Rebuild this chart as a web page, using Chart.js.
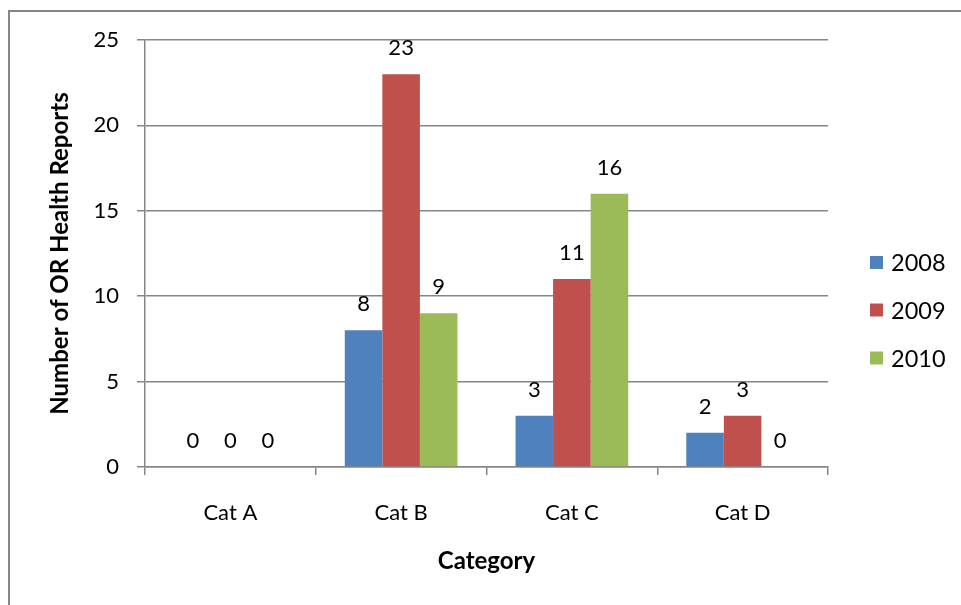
<!DOCTYPE html>
<html>
<head>
<meta charset="utf-8">
<script src="https://cdn.jsdelivr.net/npm/chart.js@4/dist/chart.umd.min.js"></script>
<style>
  html, body { margin: 0; padding: 0; background: #fff; }
  #wrap { position: relative; width: 961px; height: 605px; }
</style>
</head>
<body>
<div id="wrap"><canvas id="c" width="961" height="605"></canvas></div>
<script>
// Report counts per category and year
const categories = ['Cat A', 'Cat B', 'Cat C', 'Cat D'];
const years = ['2008', '2009', '2010'];
const counts2008 = [0, 8, 3, 2];
const counts2009 = [0, 23, 11, 3];
const counts2010 = [0, 9, 16, 0];
const yTicks = [0, 5, 10, 15, 20, 25];

const colors = ['#4F81BD', '#C0504D', '#9BBB59'];
const FONT = 'Lato, Carlito, Calibri, sans-serif';
const GRID = '#868686';

// Outer frame of the chart
const framePlugin = {
  id: 'frame',
  beforeDraw(chart) {
    const ctx = chart.ctx;
    ctx.save();
    ctx.fillStyle = '#fff';
    ctx.fillRect(0, 0, chart.width, chart.height);
    ctx.strokeStyle = GRID;
    ctx.lineWidth = 2;
    ctx.strokeRect(9, 11, chart.width + 20, chart.height + 20);
    ctx.restore();
  }
};

// Value labels above each bar
const valueLabels = {
  id: 'valueLabels',
  afterDatasetsDraw(chart) {
    const ctx = chart.ctx;
    ctx.save();
    ctx.font = '22px ' + FONT;
    ctx.fillStyle = '#000';
    ctx.textAlign = 'center';
    ctx.textBaseline = 'middle';
    chart.data.datasets.forEach((ds, i) => {
      chart.getDatasetMeta(i).data.forEach((bar, j) => {
        ctx.fillText(String(ds.data[j]), bar.x, bar.y - 26);
      });
    });
    ctx.restore();
  }
};

// Legend on the right: small square swatch plus year
const sideLegend = {
  id: 'sideLegend',
  afterDraw(chart) {
    const ctx = chart.ctx;
    const rowsY = [262.5, 310, 358];
    ctx.save();
    ctx.font = '23.5px ' + FONT;
    ctx.textAlign = 'left';
    ctx.textBaseline = 'middle';
    chart.data.datasets.forEach((ds, i) => {
      const y = rowsY[i];
      ctx.fillStyle = ds.backgroundColor;
      ctx.fillRect(870, y - 6.5, 13, 13);
      ctx.fillStyle = '#000';
      ctx.fillText(ds.label, 891, y + 1);
    });
    ctx.restore();
  }
};

const seriesValues = [counts2008, counts2009, counts2010];

new Chart(document.getElementById('c'), {
  type: 'bar',
  data: {
    labels: categories,
    datasets: years.map((y, i) => ({
      label: y,
      data: seriesValues[i],
      backgroundColor: colors[i],
      borderWidth: 0,
      barPercentage: 1,
      categoryPercentage: 0.66
    }))
  },
  options: {
    responsive: false,
    animation: false,
    devicePixelRatio: 1,
    layout: { padding: { left: 45, top: 40, right: 133, bottom: 20 } },
    plugins: { legend: { display: false }, tooltip: { enabled: false } },
    scales: {
      x: {
        grid: { display: true, drawOnChartArea: false, offset: true, color: GRID, tickLength: 8, lineWidth: 1.5 },
        border: { display: true, color: GRID, width: 1.5 },
        ticks: { color: '#000', font: { family: FONT, size: 22 }, padding: 25 },
        title: { display: true, text: 'Category', color: '#000', font: { family: FONT, size: 24, weight: 'bold' }, padding: { top: 0, bottom: 9 } },
        afterFit(scale) { scale.height = 605 - 20 - 467; }
      },
      y: {
        min: 0, max: 25,
        afterBuildTicks(scale) { scale.ticks = yTicks.map(v => ({ value: v })); },
        grid: { color: GRID, tickLength: 8, lineWidth: 1.5 },
        border: { display: true, color: GRID, width: 1.5 },
        ticks: { color: '#000', font: { family: FONT, size: 22 }, padding: 18 },
        title: { display: true, text: 'Number of OR Health Reports', color: '#000', font: { family: FONT, size: 24, weight: 'bold' }, padding: { top: 1, bottom: 0 } },
        afterFit(scale) { scale.width = 145 - 45; }
      }
    }
  },
  plugins: [framePlugin, valueLabels, sideLegend]
});
</script>
</body>
</html>
